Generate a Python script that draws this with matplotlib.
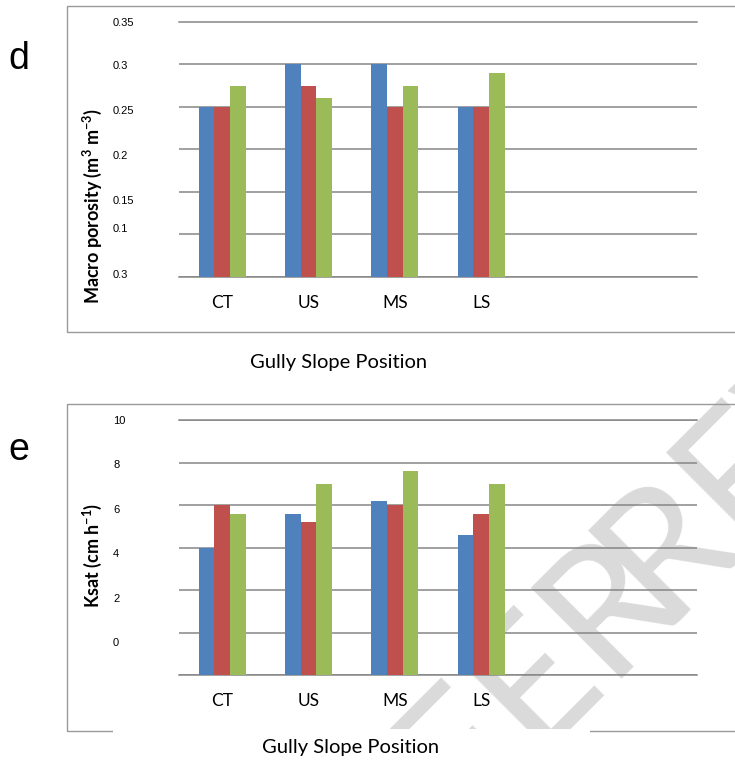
import matplotlib
matplotlib.use("Agg")
import matplotlib.pyplot as plt
from matplotlib.patches import Rectangle
import numpy as np

plt.rcParams['mathtext.fontset'] = 'custom'
plt.rcParams['mathtext.rm'] = 'Lato'
plt.rcParams['mathtext.bf'] = 'Lato:bold'

# ---------------- data ----------------
categories = ["CT", "US", "MS", "LS"]
n_slots = 6  # Excel category axis has two empty slots

# panel d: macro porosity (m3 m-3)
macro_s1 = [0.25, 0.30, 0.30, 0.25]
macro_s2 = [0.25, 0.275, 0.25, 0.25]
macro_s3 = [0.275, 0.26, 0.275, 0.29]
macro_grid = [0.05, 0.10, 0.15, 0.20, 0.25, 0.30, 0.35]
macro_ticklabels = ["0.3", "0.1", "0.15", "0.2", "0.25", "0.3", "0.35"]

# panel e: Ksat (cm h-1)
ksat_s1 = [4.0, 5.6, 6.2, 4.6]
ksat_s2 = [6.0, 5.2, 6.0, 5.6]
ksat_s3 = [5.6, 7.0, 7.6, 7.0]
ksat_grid = [-2, 0, 2, 4, 6, 8, 10]
ksat_ticklabels = ["0", "2", "4", "6", "8", "10"]

colors = ["#4F81BD", "#C0504D", "#9BBB59"]
grid_color = "#868686"

W, H = 735, 763
fig = plt.figure(figsize=(W / 100, H / 100), dpi=100)


def fx(px):
    return px / W


def fy(py):
    return 1 - py / H


# watermark (behind everything)
wm_kw = dict(rotation=45, rotation_mode='anchor', ha='left', va='baseline',
             fontsize=128, family='Lato', color='#dadada', zorder=-5)
fig.text(fx(385), fy(898), "PEER", **wm_kw)
fig.text(fx(662), fy(621), "REVIEW", **wm_kw)

# frames
fig.add_artist(Rectangle((fx(67), fy(332)), fx(740) - fx(67), fy(6) - fy(332),
                         transform=fig.transFigure, fill=False,
                         edgecolor='#9a9a9a', linewidth=1.0, zorder=-3))
fig.add_artist(Rectangle((fx(67), fy(731)), fx(740) - fx(67), fy(403.7) - fy(731),
                         transform=fig.transFigure, fill=False,
                         edgecolor='#9a9a9a', linewidth=1.0, zorder=-3))
# white box behind the lower axis title
fig.add_artist(Rectangle((fx(113), 0), fx(590) - fx(113), fy(728.5),
                         transform=fig.transFigure, facecolor='white',
                         edgecolor='none', zorder=-2))


def panel(top_px, bottom_px, s1, s2, s3, grid, labels, label_offsets_px, base):
    ax = fig.add_axes([fx(179), fy(bottom_px), fx(697) - fx(179), fy(top_px) - fy(bottom_px)])
    ax.set_facecolor('none')
    ax.set_xlim(-0.5, n_slots - 0.5)
    ax.set_ylim(grid[0], grid[-1])
    x = np.arange(len(categories))
    w = 0.182
    for i, s in enumerate([s1, s2, s3]):
        vals = np.array(s, dtype=float)
        ax.bar(x + (i - 1) * w, vals - base, bottom=base, width=w, color=colors[i],
               edgecolor='none', zorder=3)
    # gridlines
    ax.set_yticks(grid, minor=True)
    ax.grid(True, which='minor', axis='y', color=grid_color, linewidth=1.1, zorder=1)
    ax.tick_params(axis='y', which='minor', length=0)
    for sp in ['left', 'right']:
        ax.spines[sp].set_visible(False)
    for sp in ['top', 'bottom']:
        ax.spines[sp].set_color(grid_color)
        ax.spines[sp].set_linewidth(1.1)
    # tick labels (positions offset like the original)
    span = grid[-1] - grid[0]
    ppx = span / (bottom_px - top_px)
    lab_grid = grid[-len(labels):]
    pos = [g - off * ppx for g, off in zip(lab_grid, label_offsets_px)]
    ax.set_yticks(pos, labels)
    ax.tick_params(axis='y', which='major', length=0, pad=47.5, labelsize=8)
    for t in ax.get_yticklabels():
        t.set_horizontalalignment('left')
        t.set_family('Liberation Sans')
    ax.set_xticks(x, categories)
    ax.tick_params(axis='x', length=0, pad=13, labelsize=12.5)
    for t in ax.get_xticklabels():
        t.set_family('Lato')
    return ax


ax1 = panel(21.7, 277, macro_s1, macro_s2, macro_s3, macro_grid, macro_ticklabels,
            [-3.3, -6, 8, 5.3, 3, 0.7, 0], base=0.0)
ax2 = panel(419.7, 675, ksat_s1, ksat_s2, ksat_s3, ksat_grid, ksat_ticklabels,
            [9.4, 7.6, 5.7, 3.6, 1.0, -0.4], base=ksat_grid[0])

# axis titles
fig.text(fx(92), fy(206), r"Macro porosity (m$^\mathbf{3}$ m$^\mathbf{-3}$)", rotation=90,
         ha='center', va='center', fontsize=13, family='Lato', fontweight='bold')
fig.text(fx(92), fy(555), r"Ksat (cm h$^\mathbf{-1}$)", rotation=90,
         ha='center', va='center', fontsize=13, family='Lato', fontweight='bold')
fig.text(fx(339), fy(362.7), "Gully Slope Position", ha='center', va='center',
         fontsize=14.5, family='Lato')
fig.text(fx(351), fy(748), "Gully Slope Position", ha='center', va='center',
         fontsize=14.5, family='Lato')

# panel letters
fig.text(fx(18.5), fy(59), "d", ha='center', va='center', fontsize=27, family='Liberation Sans')
fig.text(fx(18.5), fy(450), "e", ha='center', va='center', fontsize=27, family='Liberation Sans')

fig.savefig("out.png", dpi=100)
